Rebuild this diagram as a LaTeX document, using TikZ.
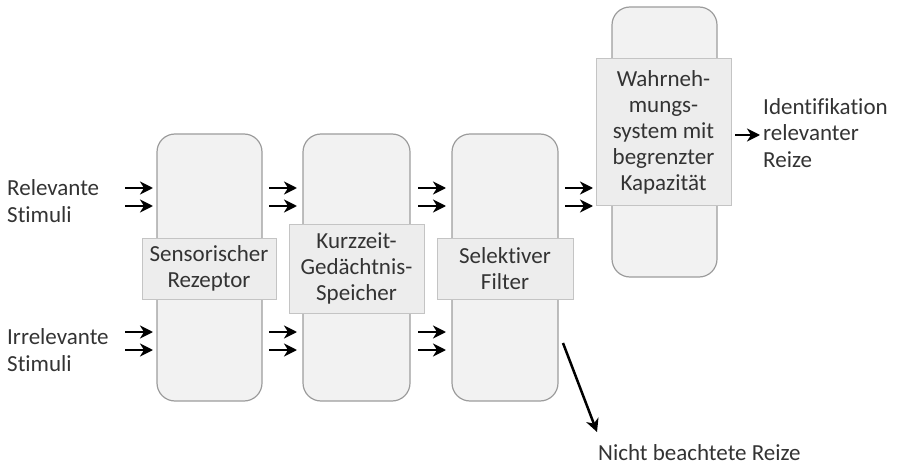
\documentclass[tikz,border=0pt]{standalone}
\usepackage{fontspec}
\setmainfont[Ligatures=NoCommon]{Carlito}
\usetikzlibrary{arrows.meta}
\definecolor{boxfill}{HTML}{F2F2F2}
\definecolor{boxline}{HTML}{9C9C9C}
\definecolor{labfill}{HTML}{EDEDED}
\definecolor{labline}{HTML}{C4C4C4}
\definecolor{txt}{HTML}{333333}
\tikzset{
  stage/.style={draw=boxline, fill=boxfill, line width=1.2pt, rounded corners=18pt, inner sep=0pt},
  stagelabel/.style={draw=labline, fill=labfill, line width=1pt, inner sep=0pt, align=center, text=txt, font=\fontsize{23}{26}\selectfont},
  plain/.style={text=txt, font=\fontsize{23}{26.5}\selectfont, align=left, inner sep=0pt},
  flow/.style={-{Stealth[length=13pt,width=13pt,inset=4pt]}, line width=2.5pt, black},
}
\begin{document}
\begin{tikzpicture}[x=1pt,y=-1pt]
\useasboundingbox (0,0) rectangle (912,465);
% stages
\node[stage, minimum width=105pt, minimum height=267pt] (b1) at (209.5,267.5) {};
\node[stage, minimum width=107pt, minimum height=267pt] (b2) at (356.5,267.5) {};
\node[stage, minimum width=106pt, minimum height=267pt] (b3) at (505,267.5) {};
\node[stage, minimum width=105pt, minimum height=270pt] (b4) at (664.5,142) {};
% labels
\node[stagelabel, minimum width=134pt, minimum height=61pt] (l1) at (209,268.5) {Sensorischer\\Rezeptor};
\node[stagelabel, minimum width=135pt, minimum height=89pt] (l2) at (356.5,268.5) {Kurzzeit-\\Gedächtnis-\\Speicher};
\node[stagelabel, minimum width=136pt, minimum height=61pt] (l3) at (505,268.5) {Selektiver\\Filter};
\node[stagelabel, minimum width=135pt, minimum height=146pt] (l4) at (663.5,132) {Wahrneh-\\mungs-\\system mit\\begrenzter\\Kapazität};
% texts
\node[plain, anchor=west] (rel) at (7,201) {Relevante\\Stimuli};
\node[plain, anchor=west] (irr) at (7,350) {Irrelevante\\Stimuli};
\node[plain, anchor=west] (id) at (763,133) {Identifikation\\relevanter\\Reize};
\node[plain, anchor=west] (nb) at (598,453) {Nicht beachtete Reize};
% arrow pairs
\foreach \xa/\xb/\n in {125/153/a, 269/297/b, 418/446/c, 565/593/d}{
  \foreach \y/\m in {188/1, 206/2, 332/3, 350/4}{
    \coordinate (s\n\m) at (\xa,\y);
    \coordinate (e\n\m) at (\xb,\y);
  }
}
\foreach \n in {a,b,c}{
  \foreach \m in {1,2,3,4}{
    \draw[flow] (s\n\m) -- (e\n\m);
  }
}
\draw[flow] (sd1) -- (ed1);
\draw[flow] (sd2) -- (ed2);
% output
\coordinate (o1) at (735,135);
\coordinate (o2) at (760,135);
\draw[flow] (o1) -- (o2);
% rejected
\coordinate (r1) at (563,343);
\coordinate (r2) at (597,432);
\draw[flow] (r1) -- (r2);
\end{tikzpicture}
\end{document}
